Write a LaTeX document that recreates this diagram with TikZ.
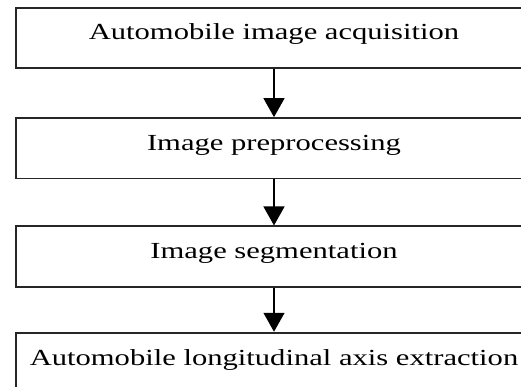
\documentclass[tikz,border=0pt]{standalone}
\usepackage{fontspec}
\setmainfont[FakeStretch=1.33]{Liberation Serif}
\usepackage{tikz}
\usetikzlibrary{arrows.meta,positioning}
\tikzstyle{stage}=[draw=black!85,line width=1.8pt,rectangle,minimum width=516pt,minimum height=60.5pt,inner sep=0pt,text height=15pt,text depth=11pt,font=\fontsize{23}{26}\selectfont]

\begin{document}
\begin{tikzpicture}[
  x=1pt,y=1pt,
  flow/.style={-{Triangle[width=21pt,length=19pt]},line width=1.4pt}
]
\useasboundingbox (0,0) rectangle (521,-387);
\clip (0,0) rectangle (521,-387);
\node [stage] (acq) at (274,-38) {Automobile image acquisition};
\node [stage, below=48pt of acq] (pre) {Image preprocessing};
\node [stage, below=46pt of pre] (seg) {Image segmentation};
\node [stage, below=44pt of seg, minimum height=62pt] (axis) {Automobile longitudinal axis extraction};

\draw [flow] (acq) -- (pre);
\draw [flow] (pre) -- (seg);
\draw [flow] (seg) -- (axis);

\end{tikzpicture}
\end{document}
